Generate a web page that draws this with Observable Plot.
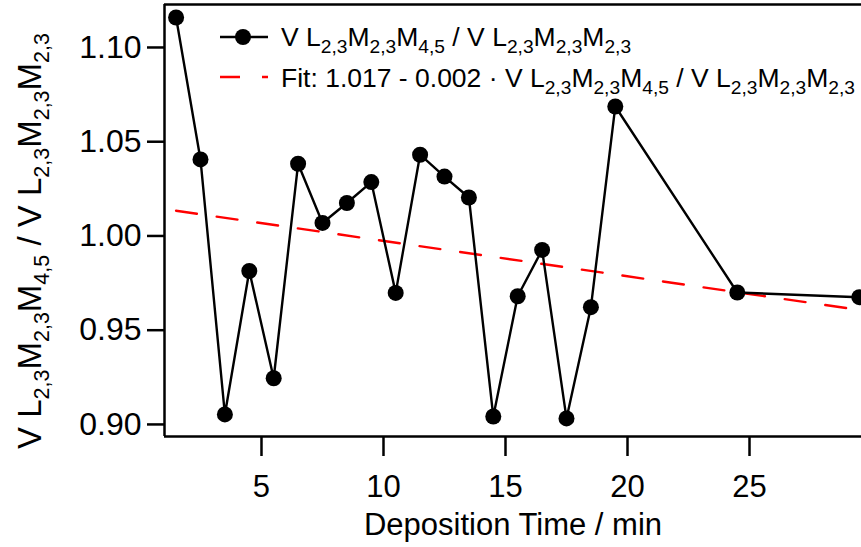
<!DOCTYPE html>
<html>
<head>
<meta charset="utf-8">
<script src="https://cdn.jsdelivr.net/npm/d3@7"></script>
<script src="https://cdn.jsdelivr.net/npm/@observablehq/plot@0.6"></script>
<style>
  html, body { margin: 0; padding: 0; background: white; }
  #chart { width: 861px; height: 547px; overflow: hidden; }
</style>
</head>
<body>
<div id="chart"></div>
<script>
// Data
const times = [1.5, 2.5, 3.5, 4.5, 5.5, 6.5, 7.5, 8.5, 9.5, 10.5, 11.5, 12.5, 13.5, 14.5, 15.5, 16.5, 17.5, 18.5, 19.5, 24.5, 29.5];
const ratios = [1.1159, 1.0406, 0.9053, 0.9814, 0.9245, 1.0383, 1.0069, 1.0175, 1.0286, 0.9698, 1.0431, 1.0315, 1.0204, 0.9042, 0.9680, 0.9926, 0.9032, 0.9622, 1.0687, 0.9700, 0.9675];
const fitIntercept = 1.0162;
const fitSlope = -0.00188;
const fitTimes = [1.5, 29.6];
const xTicks = [5, 10, 15, 20, 25];
const yTicks = [0.90, 0.95, 1.00, 1.05, 1.10];
const xDomain = [1.025, 29.59];
const yDomain = [0.8936, 1.1228];
const xLabel = "Deposition Time / min";

const data = times.map((t, i) => ({t, v: ratios[i]}));
const fitData = fitTimes.map(t => ({t, v: fitIntercept + fitSlope * t}));

const font = "'Liberation Sans', Arial, Helvetica, sans-serif";

const svg = Plot.plot({
  width: 861,
  height: 547,
  marginLeft: 164,
  marginRight: 0,
  marginTop: 4,
  marginBottom: 111,
  style: {fontFamily: font, fontSize: "28px", color: "black", background: "white", overflow: "hidden"},
  x: {domain: xDomain},
  y: {domain: yDomain},
  marks: [
    Plot.line(fitData, {x: "t", y: "v", stroke: "#ff0000", strokeWidth: 2.4, strokeDasharray: "21,20"}),
    Plot.line(data, {x: "t", y: "v", stroke: "black", strokeWidth: 2.4}),
    Plot.dot(data, {x: "t", y: "v", r: 8, fill: "black", stroke: "none"}),
    Plot.axisY({ticks: yTicks, tickSize: 17, tickPadding: 6, tickFormat: d3.format(".2f"), label: null, strokeWidth: 2.5, fontSize: 32}),
    Plot.axisX({ticks: xTicks, tickSize: 20, tickPadding: 18, tickFormat: d3.format("d"), label: null, strokeWidth: 2.5, fontSize: 31}),
    Plot.ruleX([xDomain[0]], {stroke: "black", strokeWidth: 2.5}),
    Plot.ruleY([yDomain[0], yDomain[1]], {stroke: "black", strokeWidth: 2.5}),
    Plot.text([xLabel], {frameAnchor: "bottom", dy: 89, lineAnchor: "middle", fontSize: 31, fill: "black"})
  ]
});

document.getElementById("chart").appendChild(svg);

// Rich text (subscripts) for the y-axis label and the legend
const root = d3.select(svg);

function richText(g, parts, mainSize, subSize, subShift) {
  let prevSub = false;
  parts.forEach(p => {
    const sub = p.startsWith("_");
    const txt = sub ? p.slice(1) : p;
    let dy = 0;
    if (sub && !prevSub) dy = subShift;
    if (!sub && prevSub) dy = -subShift;
    g.append("tspan").text(txt)
      .style("font-size", (sub ? subSize : mainSize) + "px")
      .attr("dy", dy);
    prevSub = sub;
  });
}

const ratioParts = ["V L", "_2,3", "M", "_2,3", "M", "_4,5", " / V L", "_2,3", "M", "_2,3", "M", "_2,3"];

// y-axis label
const yl = root.append("text")
  .attr("transform", "translate(41,241) rotate(-90)")
  .attr("text-anchor", "middle")
  .style("font-family", font)
  .attr("fill", "black");
richText(yl, ratioParts, 33, 21.5, 8);

// legend
const lg = root.append("g").style("font-family", font).attr("text-anchor", "start");
lg.append("line").attr("x1", 220).attr("x2", 268).attr("y1", 37).attr("y2", 37)
  .attr("stroke", "black").attr("stroke-width", 2.4);
lg.append("circle").attr("cx", 243).attr("cy", 37).attr("r", 8).attr("fill", "black");
lg.append("line").attr("x1", 220).attr("x2", 268).attr("y1", 77).attr("y2", 77)
  .attr("stroke", "#ff0000").attr("stroke-width", 2.4).attr("stroke-dasharray", "20,22");

const l1 = lg.append("text").attr("x", 281).attr("y", 46).attr("fill", "black").attr("text-anchor", "start");
richText(l1, ratioParts, 26.5, 19.2, 7);
const l2 = lg.append("text").attr("x", 281).attr("y", 87).attr("fill", "black").attr("text-anchor", "start");
richText(l2, ["Fit: 1.017 - 0.002 \u00b7 "].concat(ratioParts), 26.5, 19.2, 7);
</script>
</body>
</html>
